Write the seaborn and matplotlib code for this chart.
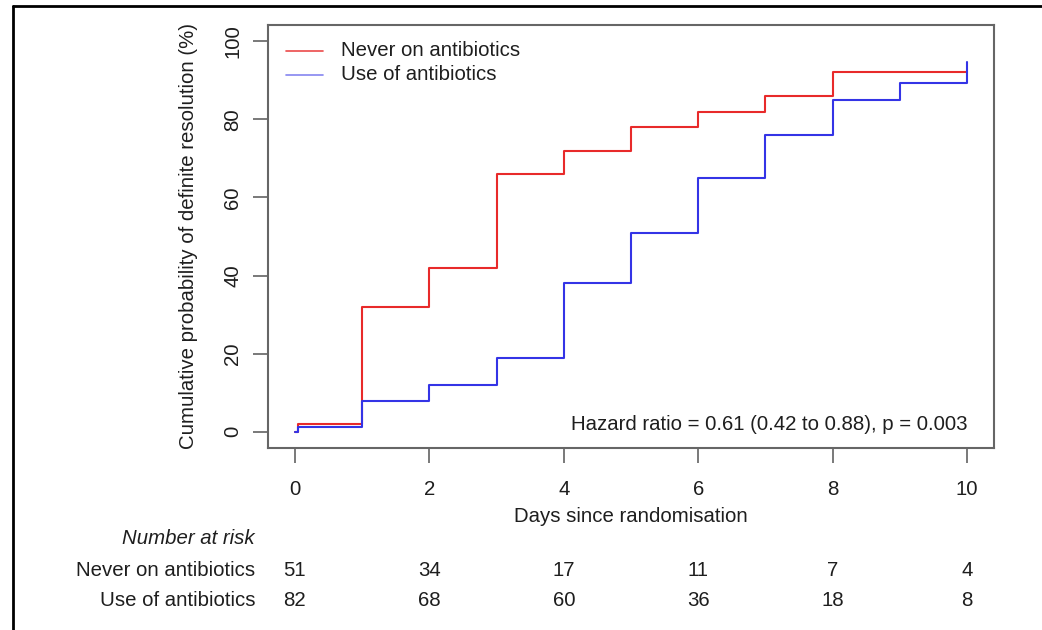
import matplotlib
matplotlib.use("Agg")
import matplotlib.pyplot as plt
import matplotlib.transforms as mtransforms
import seaborn as sns
import pandas as pd

# step curves (days, cumulative % resolved)
never_days = [0, 0.04, 1, 2, 3, 4, 5, 6, 7, 8, 10]
never_prob = [0, 2.0, 32, 42, 66, 72, 78, 82, 86, 92, 92]
use_days = [0, 0.04, 1, 2, 3, 4, 5, 6, 7, 8, 9, 10]
use_prob = [0, 1.2, 8, 12, 19, 38, 51, 65, 76, 85, 89.3, 94.7]

group_names = ["Never on antibiotics", "Use of antibiotics"]
risk_days = [0, 2, 4, 6, 8, 10]
risk_never = [51, 34, 17, 11, 7, 4]
risk_use = [82, 68, 60, 36, 18, 8]
hr_text = "Hazard ratio = 0.61 (0.42 to 0.88), p = 0.003"

df = pd.concat([
    pd.DataFrame({"days": never_days, "prob": never_prob, "group": group_names[0]}),
    pd.DataFrame({"days": use_days, "prob": use_prob, "group": group_names[1]}),
])

sns.set_theme(style="white")
plt.rcParams["font.family"] = ["Liberation Sans", "DejaVu Sans"]
fs = 14.7
tc = "#1e1e1e"

fig = plt.figure(figsize=(10.42, 6.30), dpi=100)
ax = fig.add_axes([268 / 1042, 1 - 448 / 630, (994 - 268) / 1042, (448 - 25) / 630])

pal = {group_names[0]: "#e82a2a", group_names[1]: "#3434e6"}
sns.lineplot(data=df, x="days", y="prob", hue="group", palette=pal,
             drawstyle="steps-post", estimator=None, linewidth=1.5, ax=ax,
             legend=False)

ax.set_xlim(-0.4, 10.4)
ax.set_ylim(-4.16, 104.16)
ax.set_xticks(risk_days)
ax.set_yticks([0, 20, 40, 60, 80, 100])
ax.tick_params(axis="both", direction="out", length=11, width=1.1,
               bottom=True, left=True,
               color="#555555", labelsize=fs, labelcolor=tc)
ax.tick_params(axis="x", pad=12)
ax.tick_params(axis="y", pad=7.5)
for lab in ax.get_yticklabels():
    lab.set_rotation(90)
    lab.set_va("center")
for sp in ax.spines.values():
    sp.set_color("#666666")
    sp.set_linewidth(1.5)
ax.set_xlabel("")
ax.set_ylabel("")

fig.text(188 / 1042, 1 - 236 / 630, "Cumulative probability of definite resolution (%)",
         rotation=90, ha="center", va="center", fontsize=fs, color=tc)
fig.text(631 / 1042, 1 - 516 / 630, "Days since randomisation",
         ha="center", va="center", fontsize=fs, color=tc)

# legend drawn like R's
for i, name in enumerate(group_names):
    y = 1 - (50.7 + 24.3 * i) / 630
    fig.add_artist(plt.Line2D([286 / 1042, 323 / 1042], [y, y],
                              color=pal[name], linewidth=1.2, alpha=0.85 if i == 0 else 0.6))
    fig.text(341 / 1042, y, name, ha="left", va="center", fontsize=fs, color=tc)

ax.text(10, 1.8, hr_text, ha="right", va="center", fontsize=fs, color=tc)

# number at risk table
trans = mtransforms.blended_transform_factory(ax.transData, fig.transFigure)
fig.text(255 / 1042, 1 - 538 / 630, "Number at risk", ha="right", va="center",
         fontsize=fs, style="italic", color=tc)
rows = [(group_names[0], risk_never, 570), (group_names[1], risk_use, 601)]
for name, vals, ypx in rows:
    yy = 1 - ypx / 630
    fig.text(255 / 1042, yy, name, ha="right", va="center", fontsize=fs, color=tc)
    for d, v in zip(risk_days, vals):
        ax.text(d, yy, str(v), transform=trans, ha="center", va="center",
                fontsize=fs, color=tc)

# partial black frame of the cropped figure
fig.add_artist(plt.Line2D([13 / 1042, 1], [1 - 6 / 630, 1 - 6 / 630], color="black", linewidth=2))
fig.add_artist(plt.Line2D([13 / 1042, 13 / 1042], [0, 1 - 6 / 630], color="black", linewidth=2))

fig.savefig("out.png", dpi=100)
